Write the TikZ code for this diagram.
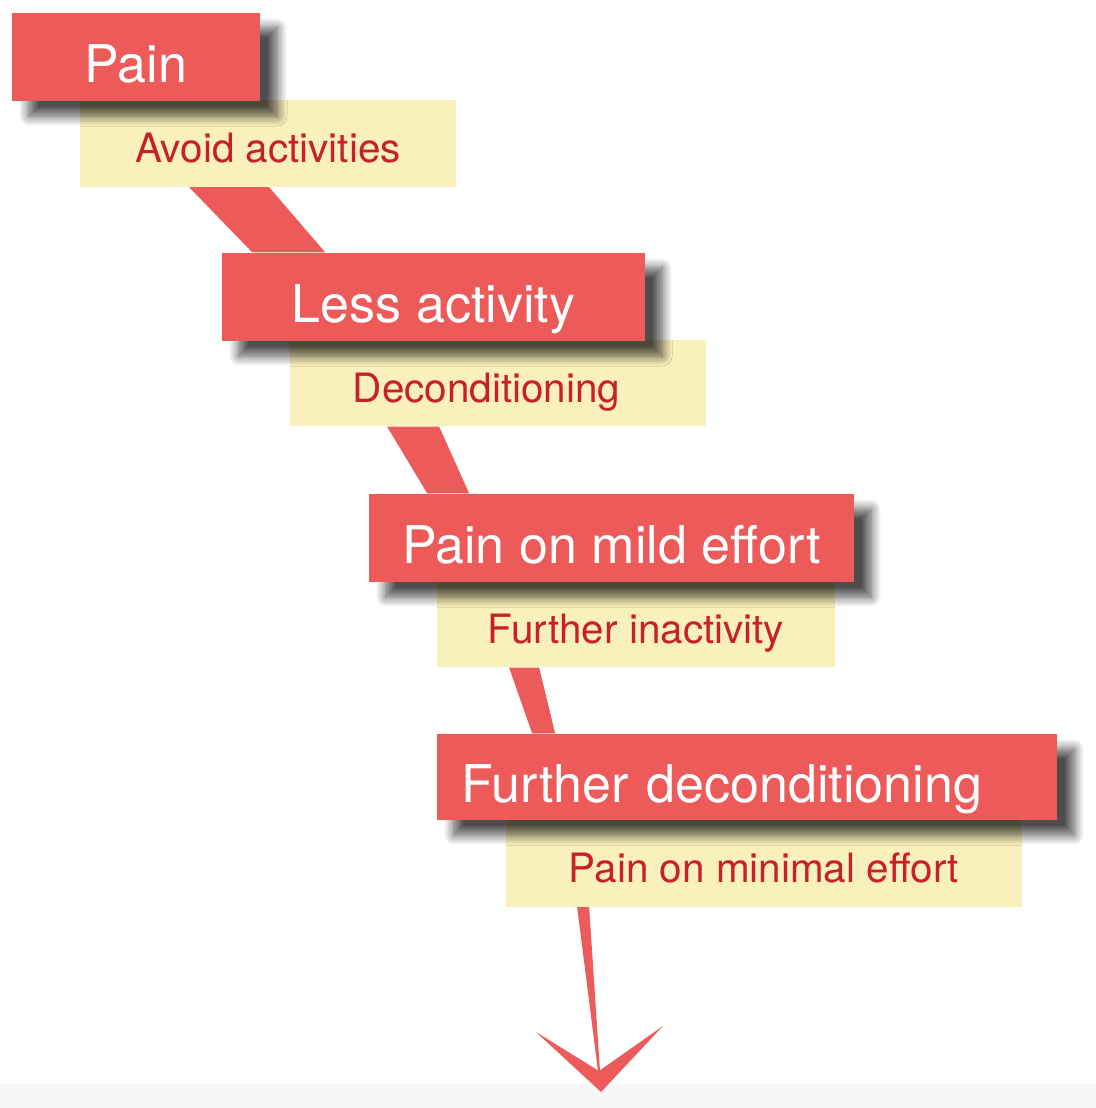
\documentclass[tikz,border=0pt]{standalone}
\usepackage{fontspec}
\setmainfont{TeX Gyre Heros}
\usetikzlibrary{calc,shadows.blur}
\definecolor{boxred}{RGB}{236,90,89}
\definecolor{boxyellow}{RGB}{250,240,187}
\definecolor{textred}{RGB}{200,32,40}
\definecolor{stripgray}{RGB}{247,247,247}
\pgfdeclarelayer{bg}
\pgfdeclarelayer{back}
\pgfsetlayers{bg, back, main}
\tikzset{
  statebox/.style={fill=boxred, text=white, minimum width=#1, minimum height=0.88cm,
    inner sep=0pt, text height=0.51cm, text depth=0cm, font=\fontsize{14.8}{17}\selectfont,
    blur shadow={shadow xshift=0.17cm, shadow yshift=-0.15cm, shadow blur radius=0.1cm,
      shadow blur steps=10, shadow opacity=70}},
  causebox/.style={fill=boxyellow, text=textred, minimum width=#1, minimum height=0.86cm,
    inner sep=0pt, text height=0.38cm, text depth=0cm, font=\fontsize{11.5}{14}\selectfont},
  ribbon/.style={fill=boxred}
}
\newcommand{\causeboxes}{
\node[causebox=3.76cm] (y1) at (268, 143.5) {Avoid activities};
\node[causebox=4.16cm, text width=2.90cm, align=left, inner xsep=0.63cm] (y2) at (498, 383) {Deconditioning};
\node[causebox=3.98cm] (y3) at (636, 624) {Further inactivity};
\node[causebox=5.16cm] (y4) at (764, 863.5) {Pain on minimal effort};
}
\newcommand{\stateboxes}{
\node[statebox=2.48cm] (r1) at (136, 57) {Pain};
\node[statebox=4.23cm] (r2) at (433.5, 297) {Less activity};
\node[statebox=4.85cm] (r3) at (611.5, 538) {Pain on mild effort};
\node[statebox=6.20cm, minimum height=0.86cm, text width=5.70cm, align=left, inner xsep=0.25cm] (r4) at (747, 777) {Further deconditioning};
}
\newcommand{\ribbons}{
\fill[ribbon] ($(y1.south west)+(110,0)$) -- ($(y1.south west)+(190,0)$) -- ($(r2.north west)+(104,0)$) -- ($(r2.north west)+(31,0)$) -- cycle;
\fill[ribbon] ($(y2.south west)+(98,0)$) -- ($(y2.south west)+(150,0)$) -- ($(r3.north west)+(101,0)$) -- ($(r3.north west)+(59,0)$) -- cycle;
\fill[ribbon] ($(y3.south west)+(73,0)$) -- ($(y3.south west)+(103,0)$) -- ($(r4.north west)+(119,0)$) -- ($(r4.north west)+(96,0)$) -- cycle;
\fill[ribbon] ($(y4.south west)+(72,0)$) -- ($(y4.south west)+(84,0)$) -- ($(tip)+(-1,-21)$) -- ($(tip)+(-3,-21)$) -- cycle;
}

\begin{document}
\begin{tikzpicture}[x=0.01cm, y=-0.01cm]
\useasboundingbox (0,0) rectangle (1096,1108);

% boxes
\causeboxes
\stateboxes

% arrow tip
\coordinate (tip) at (601, 1092);
\fill[ribbon] (tip) -- +(-65,-60) -- +(-2,-21) -- +(62,-66) -- cycle;

% ribbons behind the boxes
\begin{pgfonlayer}{back}
\ribbons
\end{pgfonlayer}

% floor
\begin{pgfonlayer}{bg}
\fill[stripgray] (0,1084) rectangle (1096,1108);
\end{pgfonlayer}
\end{tikzpicture}
\end{document}
